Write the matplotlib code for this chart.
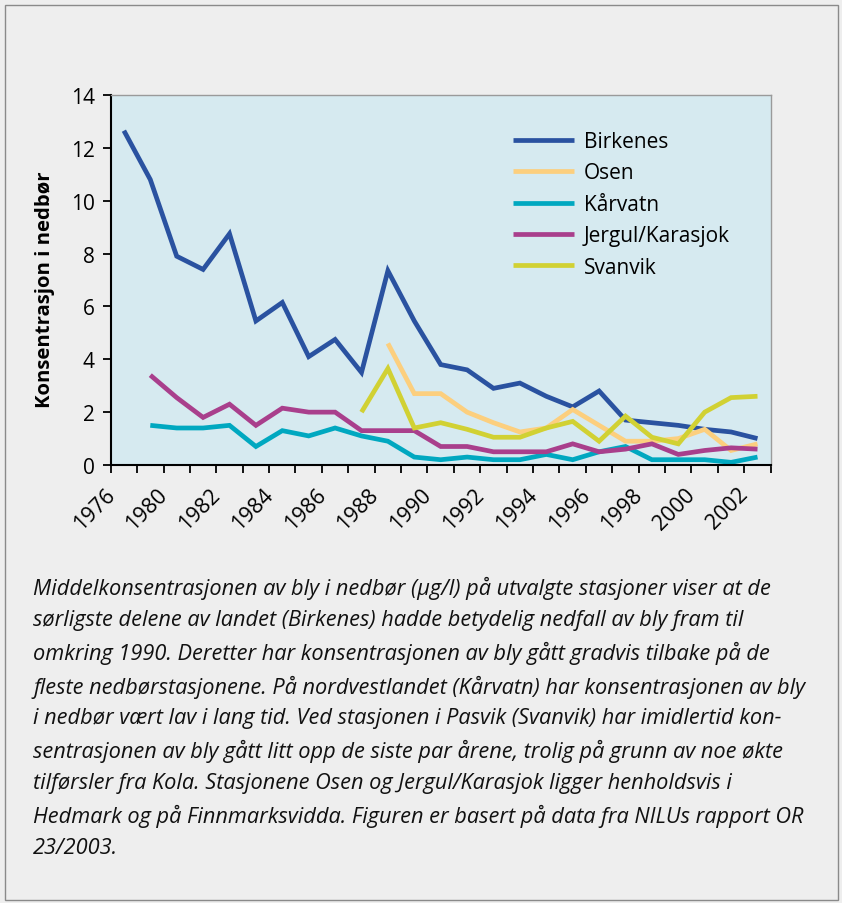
import numpy as np
import matplotlib
matplotlib.use("Agg")
import matplotlib.pyplot as plt
from matplotlib.patches import Rectangle

nan = np.nan
# 25 category slots along the x-axis (one value per slot)
birkenes = [12.65, 10.8, 7.9, 7.4, 8.75, 5.45, 6.15, 4.1, 4.75, 3.5, 7.35, 5.45, 3.8,
            3.6, 2.9, 3.1, 2.6, 2.2, 2.8, 1.7, 1.6, 1.5, 1.35, 1.25, 1.0]
osen = [nan] * 10 + [4.6, 2.7, 2.7, 2.0, 1.6, 1.25, 1.4, 2.1, 1.5, 0.9, 0.9, 1.0,
                      1.35, 0.55, 0.8]
karvatn = [nan, 1.5, 1.4, 1.4, 1.5, 0.7, 1.3, 1.1, 1.4, 1.1, 0.9, 0.3, 0.2, 0.3,
           0.2, 0.2, 0.4, 0.2, 0.5, 0.7, 0.2, 0.2, 0.2, 0.1, 0.3]
jergul = [nan, 3.4, 2.55, 1.8, 2.3, 1.5, 2.15, 2.0, 2.0, 1.3, 1.3, 1.3, 0.7, 0.7,
          0.5, 0.5, 0.5, 0.8, 0.5, 0.6, 0.8, 0.4, 0.55, 0.65, 0.6]
svanvik = [nan] * 9 + [2.0, 3.65, 1.4, 1.6, 1.35, 1.05, 1.05, 1.4, 1.65, 0.9, 1.85,
                        1.05, 0.8, 2.0, 2.55, 2.6]

series_names = ["Birkenes", "Osen", "Kårvatn", "Jergul/Karasjok", "Svanvik"]
series_values = [birkenes, osen, karvatn, jergul, svanvik]
series_colors = ["#2a52a0", "#fccf7e", "#00a8c0", "#a93f8c", "#d1d133"]

# x tick labels as printed on the axis (every second tick)
tick_labels = ["1976", "1980", "1982", "1984", "1986", "1988", "1990", "1992",
               "1994", "1996", "1998", "2000", "2002"]
y_ticks = [0, 2, 4, 6, 8, 10, 12, 14]

caption = ("Middelkonsentrasjonen av bly i nedbør (µg/l) på utvalgte stasjoner viser at de\n"
           "sørligste delene av landet (Birkenes) hadde betydelig nedfall av bly fram til\n"
           "omkring 1990. Deretter har konsentrasjonen av bly gått gradvis tilbake på de\n"
           "fleste nedbørstasjonene. På nordvestlandet (Kårvatn) har konsentrasjonen av bly\n"
           "i nedbør vært lav i lang tid. Ved stasjonen i Pasvik (Svanvik) har imidlertid kon-\n"
           "sentrasjonen av bly gått litt opp de siste par årene, trolig på grunn av noe økte\n"
           "tilførsler fra Kola. Stasjonene Osen og Jergul/Karasjok ligger henholdsvis i\n"
           "Hedmark og på Finnmarksvidda. Figuren er basert på data fra NILUs rapport OR\n"
           "23/2003.")

plt.rcParams['font.family'] = ['Open Sans', 'DejaVu Sans']

W, H = 842, 904
fig = plt.figure(figsize=(W / 100, H / 100), dpi=100)
fig.patch.set_facecolor("#eeeeee")
fig.patches.append(Rectangle((5 / W, 1 - 901 / H), 833 / W, 895 / H, transform=fig.transFigure,
                             fill=False, edgecolor="#8a8a8a", linewidth=1.0))

ax = fig.add_axes([110.7 / W, 1 - 466 / H, 660 / W, 370 / H])
ax.set_facecolor("#d6eaf0")

n = len(birkenes)
x = np.arange(n) + 0.5
for name, vals, col in zip(series_names, series_values, series_colors):
    ax.plot(x, vals, color=col, lw=3.4, label=name, solid_joinstyle="miter",
            solid_capstyle="butt")

ax.set_xlim(0, n)
ax.set_ylim(0, 14)
ax.set_xticks(np.arange(n + 1))
ax.set_xticklabels([""] * (n + 1))
ax.set_yticks(y_ticks)
ax.set_yticklabels([str(v) for v in y_ticks], fontsize=15)
ax.tick_params(axis="both", direction="out", length=5.5, width=1.3, color="black")
ax.tick_params(axis="y", pad=6)
for i, lab in enumerate(tick_labels):
    ax.text(2 * i - 0.25, -0.7, lab, rotation=45, ha="right", va="top",
            rotation_mode="anchor", fontsize=15.5, transform=ax.transData)

for s in ["left", "bottom"]:
    ax.spines[s].set_color("black")
    ax.spines[s].set_linewidth(1.5)
for s in ["top", "right"]:
    ax.spines[s].set_color("#9a9a9a")
    ax.spines[s].set_linewidth(1.0)

ax.set_ylabel("Konsentrasjon i nedbør", fontsize=14.6, fontweight="bold", labelpad=11)
ax.yaxis.label.set_y(0.477)

leg = ax.legend(loc="upper left", bbox_to_anchor=(0.597, 0.925), frameon=False,
                fontsize=15, handlelength=2.93, handletextpad=0.48, labelspacing=0.5,
                borderaxespad=0)

fig.text(33 / W, 1 - 577 / H, caption, fontsize=15.7, style="italic", ha="left", va="top",
         linespacing=1.6, color="#111111")

fig.savefig("out.png", dpi=100, facecolor=fig.get_facecolor())
